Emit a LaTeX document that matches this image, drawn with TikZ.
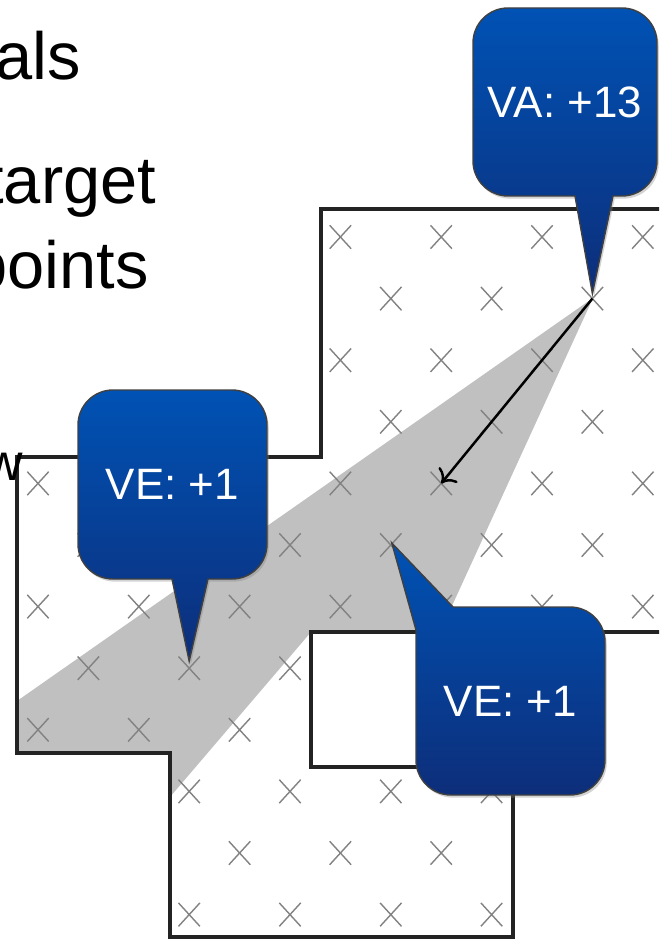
\documentclass[tikz,border=0pt]{standalone}
\usepackage{fontspec}
\setmainfont{Liberation Sans}
\usetikzlibrary{positioning,arrows.meta,calc,shapes.misc,shadows}
\definecolor{bubtop}{RGB}{0,82,180}
\definecolor{bubbot}{RGB}{13,46,122}
\definecolor{fangray}{RGB}{192,192,192}
\definecolor{markgray}{RGB}{130,130,130}
\definecolor{wallgray}{RGB}{35,35,35}

\begin{document}
\begin{tikzpicture}[x=0.02cm, y=-0.02cm,
  >={To[length=2.4mm, width=4.8mm]},
  wall/.style={draw=wallgray, line width=2pt, line join=miter},
  xmark/.style={cross out, draw=markgray, line width=0.8pt, inner sep=0pt,
    minimum width=4mm, minimum height=4.4mm},
  bubble/.style={draw=black!75, line width=0.8pt, top color=bubtop,
    bottom color=bubbot,
    drop shadow={shadow xshift=1pt, shadow yshift=-1.5pt, opacity=.35}},
  btext/.style={text=white, inner sep=0pt, font=\fontsize{25}{30}\selectfont},
  slide/.style={anchor=base west, inner sep=0pt,
    font=\fontsize{38}{45}\selectfont}]
\useasboundingbox (0,0) rectangle (659,939);
\clip (0,0) rectangle (659,939);
\fill[fangray] (593,298) -- (17,701) -- (17,753) -- (170,753) -- (170,797)
  -- (311,632) -- (440,632) -- cycle;
\foreach \r/\cols in {0/{6,8,10,12}, 1/{7,9,11}, 2/{6,8,10,12}, 3/{7,9,11},
    4/{0,2,4,6,8,10,12}, 5/{1,3,5,7,9,11}, 6/{0,2,4,6,8,10,12}, 7/{1,3,5},
    8/{0,2,4}, 9/{3,5,7,9}, 10/{4,6,8}, 11/{3,5,7,9}}
  \foreach \c in \cols
    \node[xmark] (x-\r-\c) at ({38+50.4*\c}, {237+61.6*\r}) {};
\draw[wall] (700,209) -- (321,209) -- (321,457) -- (17,457) -- (17,753)
  -- (170,753) -- (170,937) -- (513,937) -- (513,767) -- (311,767)
  -- (311,632) -- (700,632);
\draw[->, line width=1.4pt] (x-1-11.center) -- (x-4-8.center);
\coordinate (va-nw) at (473,8);
\coordinate (va-se) at (657,196);
\path[bubble] ($(x-1-11.center)+(0,-5)$) -- (575,196) [rounded corners=0.7cm]
  -- (va-nw |- va-se) -- (va-nw) -- (va-se |- va-nw) -- (va-se)
  [sharp corners] -- (613,196) -- cycle;
\node[btext] (va) at ($(va-nw)!.5!(va-se)$) {VA: +13};
\coordinate (vl-nw) at (78,390);
\coordinate (vl-se) at (267,579);
\path[bubble] ($(x-7-3.center)+(0,-7)$) -- (172,579) [rounded corners=0.7cm]
  -- (vl-nw |- vl-se) -- (vl-nw) -- (vl-se |- vl-nw) -- (vl-se)
  [sharp corners] -- (208,579) -- cycle;
\node[btext] (vl) at ($(vl-nw)!.5!(vl-se)$) {VE: +1};
\coordinate (vr-nw) at (416,607);
\coordinate (vr-se) at (605,795);
\path[bubble] ($(x-5-7.center)+(1,-2)$) -- (416,630) [rounded corners=0.7cm]
  -- (vr-nw |- vr-se) -- (vr-se) -- (vr-se |- vr-nw)
  [sharp corners] -- (453,607) -- cycle;
\node[btext] (vr) at ($(vr-nw)!.5!(vr-se)$) {VE: +1};
\node[slide] (t1) at (-5,80) {als};
\node[slide] (t2) at (-15,204) {target};
\node[slide] (t3) at (-30,288) {points};
\node[slide, font=\fontsize{29.5}{35}\selectfont] (t4) at (-15,480) {w};
\end{tikzpicture}
\end{document}
